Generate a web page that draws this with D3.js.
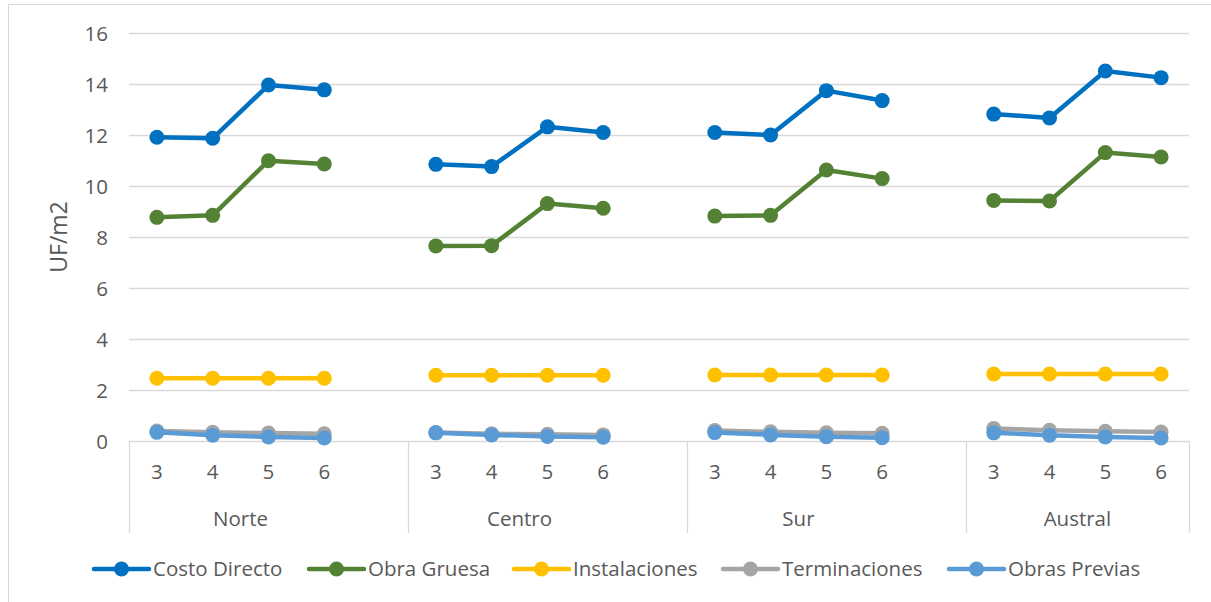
<!DOCTYPE html>
<html>
<head>
<meta charset="utf-8">
<script src="https://cdn.jsdelivr.net/npm/d3@7"></script>
<style>
  html, body { margin: 0; padding: 0; background: #fff; }
  svg { display: block; font-family: "Open Sans", "Noto Sans", sans-serif; }
</style>
</head>
<body>
<svg id="chart" width="1211" height="602"></svg>
<script>
// Regions and the sub-categories plotted in each
const regions = ["Norte", "Centro", "Sur", "Austral"];
const subCats = ["3", "4", "5", "6"];
const yTicks = [0, 2, 4, 6, 8, 10, 12, 14, 16];

// Values in UF/m2, four per region (Norte, Centro, Sur, Austral)
const costoDirecto  = [11.91, 11.87, 13.96, 13.77,  10.85, 10.76, 12.32, 12.10,  12.10, 12.00, 13.74, 13.35,  12.82, 12.67, 14.51, 14.25];
const obraGruesa    = [8.77, 8.85, 10.99, 10.86,  7.65, 7.66, 9.31, 9.13,  8.82, 8.85, 10.63, 10.29,  9.43, 9.41, 11.31, 11.14];
const instalaciones = [2.46, 2.46, 2.46, 2.46,  2.58, 2.58, 2.58, 2.58,  2.59, 2.59, 2.59, 2.59,  2.63, 2.63, 2.63, 2.63];
const terminaciones = [0.39, 0.34, 0.31, 0.28,  0.33, 0.28, 0.26, 0.24,  0.41, 0.36, 0.32, 0.30,  0.49, 0.42, 0.38, 0.35];
const obrasPrevias  = [0.34, 0.23, 0.16, 0.12,  0.32, 0.24, 0.18, 0.15,  0.33, 0.24, 0.17, 0.13,  0.32, 0.23, 0.16, 0.12];

const seriesNames  = ["Costo Directo", "Obra Gruesa", "Instalaciones", "Terminaciones", "Obras Previas"];
const seriesValues = [costoDirecto, obraGruesa, instalaciones, terminaciones, obrasPrevias];
const seriesColors = ["#0070C0", "#548235", "#FFC000", "#A5A5A5", "#5B9BD5"];

const svg = d3.select("#chart");
const textColor = "#595959";
const gridColor = "#D9D9D9";
const labelSize = "20.5px";

// Plot area
const plot = { left: 129, right: 1189, top: 33, bottom: 441 };

// Each region occupies 4 slots plus one empty slot as separator (except the last)
const slotsPerGroup = subCats.length + 1;
const totalSlots = regions.length * slotsPerGroup - 1;
const x = d3.scaleLinear().domain([0, totalSlots]).range([plot.left, plot.right]);
const y = d3.scaleLinear().domain([0, 16]).range([plot.bottom, plot.top]);

const slotOf = (g, k) => g * slotsPerGroup + k;

// Chart-area border (left and top edges)
svg.append("path")
  .attr("d", `M8.5,602 V4.5 H1211`)
  .attr("fill", "none").attr("stroke", gridColor).attr("stroke-width", 1);

// Horizontal gridlines
svg.append("g")
  .selectAll("line")
  .data(yTicks.filter(t => t > 0))
  .join("line")
  .attr("x1", plot.left).attr("x2", plot.right)
  .attr("y1", d => Math.round(y(d)) + 0.5).attr("y2", d => Math.round(y(d)) + 0.5)
  .attr("stroke", gridColor).attr("stroke-width", 1.3);

// Y axis labels
const yAxis = d3.axisLeft(y).tickValues(yTicks).tickSize(0).tickPadding(0);
const yg = svg.append("g").attr("transform", `translate(${plot.left - 21},0)`).call(yAxis);
yg.select(".domain").remove();
yg.selectAll("text")
  .attr("fill", textColor)
  .style("font-size", labelSize)
  .style("font-family", "'Open Sans', 'Noto Sans', sans-serif")
  .attr("dy", "0.36em");

// Y axis title
svg.append("text")
  .attr("transform", `translate(59,${(plot.top + plot.bottom) / 2}) rotate(-90)`)
  .attr("text-anchor", "middle")
  .attr("dy", "0.36em")
  .attr("fill", textColor)
  .style("font-size", "23px")
  .text("UF/m2");

// Category axis: baseline and group separators
const axisBottom = 533;
svg.append("line")
  .attr("x1", plot.left).attr("x2", plot.right)
  .attr("y1", plot.bottom + 0.5).attr("y2", plot.bottom + 0.5)
  .attr("stroke", gridColor).attr("stroke-width", 1.3);

const boundaries = regions.map((r, g) => g * slotsPerGroup).concat([totalSlots]);
svg.append("g")
  .selectAll("line")
  .data(boundaries)
  .join("line")
  .attr("x1", d => Math.round(x(d)) + 0.5).attr("x2", d => Math.round(x(d)) + 0.5)
  .attr("y1", plot.bottom).attr("y2", axisBottom)
  .attr("stroke", gridColor).attr("stroke-width", 1.3);

// Sub-category labels
const subLabels = [];
regions.forEach((r, g) => subCats.forEach((c, k) => subLabels.push({ label: c, slot: slotOf(g, k) })));
svg.append("g")
  .selectAll("text")
  .data(subLabels)
  .join("text")
  .attr("x", d => x(d.slot + 0.5))
  .attr("y", 472)
  .attr("dy", "0.36em")
  .attr("text-anchor", "middle")
  .attr("fill", textColor)
  .style("font-size", labelSize)
  .text(d => d.label);

// Region labels
svg.append("g")
  .selectAll("text")
  .data(regions)
  .join("text")
  .attr("x", (d, g) => x(slotOf(g, 0) + subCats.length / 2))
  .attr("y", 519)
  .attr("dy", "0.36em")
  .attr("text-anchor", "middle")
  .attr("fill", textColor)
  .style("font-size", labelSize)
  .text(d => d);

// Series: one line segment per region, with circle markers
const line = d3.line().x(d => x(d.slot + 0.5)).y(d => y(d.v));
seriesValues.forEach((vals, s) => {
  const g = svg.append("g");
  regions.forEach((r, gi) => {
    const pts = subCats.map((c, k) => ({ slot: slotOf(gi, k), v: vals[gi * subCats.length + k] }));
    g.append("path")
      .attr("d", line(pts))
      .attr("fill", "none")
      .attr("stroke", seriesColors[s])
      .attr("stroke-width", 4.5)
      .attr("stroke-linejoin", "round");
    g.selectAll(null)
      .data(pts)
      .join("circle")
      .attr("cx", d => x(d.slot + 0.5))
      .attr("cy", d => y(d.v))
      .attr("r", 7.5)
      .attr("fill", seriesColors[s]);
  });
});

// Legend
const legendY = 569;
const legendX = [94, 309, 514, 723, 949];
const leg = svg.append("g");
seriesNames.forEach((name, s) => {
  const lx = legendX[s];
  leg.append("line")
    .attr("x1", lx).attr("x2", lx + 55)
    .attr("y1", legendY).attr("y2", legendY)
    .attr("stroke", seriesColors[s]).attr("stroke-width", 4.5).attr("stroke-linecap", "round");
  leg.append("circle")
    .attr("cx", lx + 27.5).attr("cy", legendY).attr("r", 7.5)
    .attr("fill", seriesColors[s]);
  leg.append("text")
    .attr("x", lx + 59).attr("y", legendY)
    .attr("dy", "0.36em")
    .attr("fill", textColor)
    .style("font-size", labelSize)
    .text(name);
});
</script>
</body>
</html>
